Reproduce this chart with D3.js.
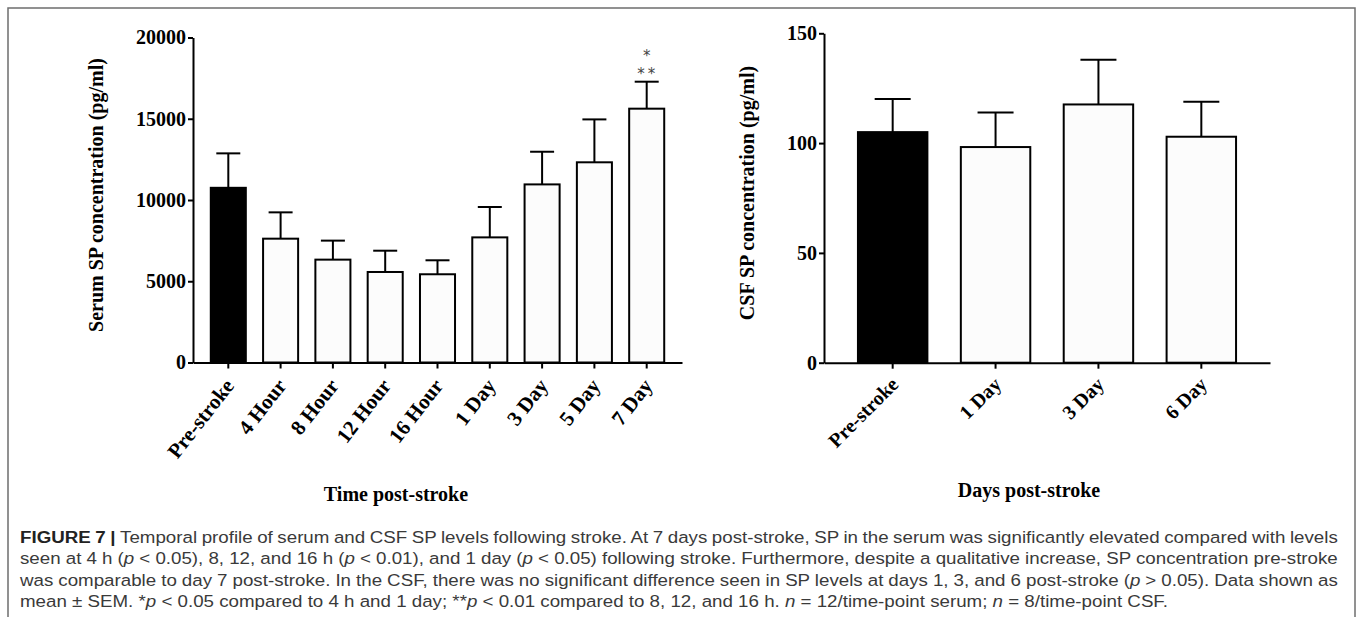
<!DOCTYPE html>
<html>
<head>
<meta charset="utf-8">
<script src="https://cdn.jsdelivr.net/npm/d3@7"></script>
<style>
  html, body { margin: 0; padding: 0; background: #fff; }
  svg { display: block; }
  .ax text { font-family: "Liberation Serif", "Times New Roman", serif; font-weight: bold; font-size: 20px; fill: #000; }
  .ax path, .ax line { stroke: #000; stroke-width: 2px; }
  .title { font-family: "Liberation Serif", "Times New Roman", serif; font-weight: bold; font-size: 20px; fill: #000; }
  .cap { font-family: "Liberation Sans", Arial, sans-serif; font-size: 17px; fill: #3a3a3a; }
  .sig { font-family: "DejaVu Sans", sans-serif; font-size: 15px; fill: #444; }
</style>
</head>
<body>
<svg id="chart" width="1358" height="617"></svg>
<script>
// ---- Data ----
const serumCategories = ["Pre-stroke", "4 Hour", "8 Hour", "12 Hour", "16 Hour", "1 Day", "3 Day", "5 Day", "7 Day"];
const serumMeans = [10750, 7620, 6330, 5570, 5430, 7700, 10960, 12320, 15620];
const serumSEM   = [2120, 1620, 1170, 1310, 860, 1870, 2010, 2640, 1660];
const serumTicks = [0, 5000, 10000, 15000, 20000];

const csfCategories = ["Pre-stroke", "1 Day", "3 Day", "6 Day"];
const csfMeans = [105, 98.2, 117.6, 102.9];
const csfSEM   = [15.1, 15.7, 20.4, 15.9];
const csfTicks = [0, 50, 100, 150];

const serumYLabel = "Serum SP concentration (pg/ml)";
const serumXLabel = "Time post-stroke";
const csfYLabel = "CSF SP concentration (pg/ml)";
const csfXLabel = "Days post-stroke";
const sigLabels = ["*", "**"];

const captionLines = [
  [{t:"FIGURE 7 | ", b:true}, {t:"Temporal profile of serum and CSF SP levels following stroke. At 7 days post-stroke, SP in the serum was significantly elevated compared with levels"}],
  [{t:"seen at 4 h ("}, {t:"p", i:true}, {t:" < 0.05), 8, 12, and 16 h ("}, {t:"p", i:true}, {t:" < 0.01), and 1 day ("}, {t:"p", i:true}, {t:" < 0.05) following stroke. Furthermore, despite a qualitative increase, SP concentration pre-stroke"}],
  [{t:"was comparable to day 7 post-stroke. In the CSF, there was no significant difference seen in SP levels at days 1, 3, and 6 post-stroke ("}, {t:"p", i:true}, {t:" > 0.05). Data shown as"}],
  [{t:"mean \u00B1 SEM. *"}, {t:"p", i:true}, {t:" < 0.05 compared to 4 h and 1 day; **"}, {t:"p", i:true}, {t:" < 0.01 compared to 8, 12, and 16 h. "}, {t:"n", i:true}, {t:" = 12/time-point serum; "}, {t:"n", i:true}, {t:" = 8/time-point CSF."}]
];

const svg = d3.select("#chart");

// frame
svg.append("rect").attr("x", 8).attr("y", 8).attr("width", 1347).attr("height", 700)
  .attr("fill", "none").attr("stroke", "#6e6e6e").attr("stroke-width", 1.5);

function drawPanel(opts) {
  const g = svg.append("g");
  const y = d3.scaleLinear().domain([0, opts.ticks[opts.ticks.length-1]]).range([opts.y0, opts.y1]);
  const x = d3.scaleBand().domain(opts.cats).range([opts.x0, opts.x1])
    .paddingInner(opts.pi).paddingOuter(opts.po);
  const bw = x.bandwidth();

  // error bars (upper only)
  const eb = g.append("g");
  opts.cats.forEach((c, i) => {
    const cx = x(c) + bw / 2;
    const top = y(opts.means[i] + opts.sem[i]);
    eb.append("line").attr("x1", cx).attr("x2", cx).attr("y1", y(opts.means[i])).attr("y2", top)
      .attr("stroke", "#000").attr("stroke-width", 2);
    eb.append("line").attr("x1", cx - opts.cap / 2).attr("x2", cx + opts.cap / 2).attr("y1", top).attr("y2", top)
      .attr("stroke", "#000").attr("stroke-width", 2);
  });

  // bars
  g.append("g").selectAll("rect").data(opts.cats).join("rect")
    .attr("x", c => x(c))
    .attr("y", (c, i) => y(opts.means[i]))
    .attr("width", bw)
    .attr("height", (c, i) => y(0) - y(opts.means[i]))
    .attr("fill", (c, i) => i === 0 ? "#000" : "#fcfcfc")
    .attr("stroke", "#000").attr("stroke-width", 2);

  // y axis
  g.append("g").attr("class", "ax").attr("transform", `translate(${opts.x0},0)`)
    .call(d3.axisLeft(y).tickValues(opts.ticks).tickFormat(d3.format("d")).tickSize(5).tickSizeOuter(0).tickPadding(2));

  // x axis
  const xa = g.append("g").attr("class", "ax").attr("transform", `translate(0,${opts.y0})`)
    .call(d3.axisBottom(x).tickSize(6).tickSizeOuter(0));
  xa.selectAll("text")
    .attr("text-anchor", "end")
    .attr("dy", "0.35em")
    .attr("y", 0)
    .style("font-size", opts.labelSize + "px")
    .attr("transform", `translate(${opts.ldx},${opts.ldy}) rotate(${opts.angle})`);

  // titles
  g.append("text").attr("class", "title")
    .attr("transform", `translate(${opts.ytx},${opts.yty}) rotate(-90)`)
    .attr("text-anchor", "middle").attr("dy", "0.35em").text(opts.ylabel);
  g.append("text").attr("class", "title")
    .attr("x", opts.xtx).attr("y", opts.xty)
    .attr("text-anchor", "middle").attr("dy", "0.35em").text(opts.xlabel);
  return {x, y, g};
}

const left = drawPanel({
  cats: serumCategories, means: serumMeans, sem: serumSEM, ticks: serumTicks,
  x0: 193, x1: 682, y0: 362.5, y1: 37.5, pi: 0.33, po: 0.34, cap: 24,
  labelSize: 21, angle: -52, ldx: 1, ldy: 19,
  ylabel: serumYLabel, xlabel: serumXLabel, ytx: 96, yty: 195, xtx: 396, xty: 494
});

const right = drawPanel({
  cats: csfCategories, means: csfMeans, sem: csfSEM, ticks: csfTicks,
  x0: 824, x1: 1270, y0: 362.7, y1: 33.3, pi: 0.325, po: 0.33, cap: 36,
  labelSize: 20, angle: -45, ldx: 2, ldy: 18,
  ylabel: csfYLabel, xlabel: csfXLabel, ytx: 747, yty: 193, xtx: 1029, xty: 490
});

// significance asterisks above 7 Day
const lastCat = serumCategories[serumCategories.length - 1];
const sx = left.x(lastCat) + left.x.bandwidth() / 2;
const sTop = left.y(serumMeans[8] + serumSEM[8]);
svg.append("text").attr("class", "sig").attr("text-anchor", "middle")
  .attr("x", sx).attr("y", sTop - 21).text(sigLabels[0]);
svg.append("text").attr("class", "sig").attr("text-anchor", "middle")
  .attr("x", sx + 1).attr("y", sTop - 3).style("letter-spacing", "3px").text(sigLabels[1]);

// caption (justified like the journal layout)
const capInner = svg.append("g");
const baselines = [543, 564.5, 586, 607.5];
const capTexts = captionLines.map((line, li) => {
  const t = capInner.append("text").attr("class", "cap").attr("x", 0).attr("y", baselines[li]);
  line.forEach(seg => {
    const ts = t.append("tspan").text(seg.t);
    if (seg.b) ts.style("font-weight", "bold").style("fill", "#222");
    if (seg.i) ts.style("font-style", "italic");
  });
  return t;
});
const nat4 = capTexts[3].node().getComputedTextLength();
const scaleX = (1169 - 20) / nat4;
const target = (1339 - 20) / scaleX;
capTexts.slice(0, 3).forEach((t, li) => {
  const nat = t.node().getComputedTextLength();
  const spaces = captionLines[li].map(s => s.t).join("").split(" ").length - 1;
  t.style("word-spacing", ((target - nat) / spaces) + "px");
});
capInner.attr("transform", `translate(20,0) scale(${scaleX},1)`);
</script>
</body>
</html>
